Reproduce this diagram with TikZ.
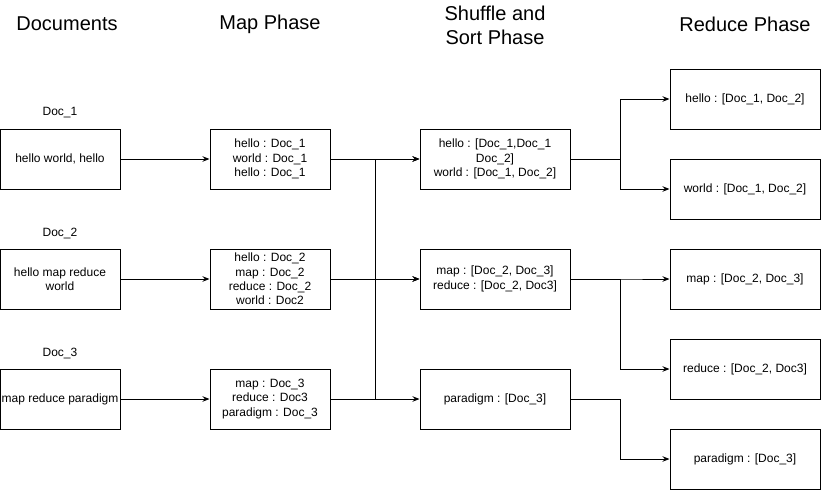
\documentclass[tikz,border=0pt]{standalone}
\usepackage{fontspec}
\setmainfont{Liberation Sans}
\usepackage{tikz}
\usetikzlibrary{arrows.meta}

\begin{document}
\begin{tikzpicture}[x=1pt,y=-1pt,line width=1pt,
    box/.style={draw, rectangle, minimum width=120pt, minimum height=60pt, inner sep=1pt, align=center, font=\fontsize{12}{14.4}\selectfont},
    widebox/.style={box, minimum width=150pt},
    title/.style={align=center, font=\fontsize{20}{24}\selectfont},
    doclabel/.style={font=\fontsize{12}{14.4}\selectfont},
    flow/.style={-{Stealth[length=7pt,width=5.5pt]}}]
    \useasboundingbox (0,0) rectangle (821,490);

    % Column titles
    \node[title] (tdocs) at (67,24) {Documents};
    \node[title] (tmap) at (270,24) {Map Phase};
    \node[title] (tshuffle) at (495,25) {Shuffle and\\Sort Phase};
    \node[title] (treduce) at (745,24) {Reduce Phase};

    % Input documents
    \node[doclabel] (l1) at (60,113) {Doc\_1};
    \node[doclabel] (l2) at (60,233) {Doc\_2};
    \node[doclabel] (l3) at (60,353) {Doc\_3};
    \node[box] (d1) at (60,159) {hello world, hello};
    \node[box] (d2) at (60,279) {hello map reduce\\world};
    \node[box] (d3) at (60,399) {map reduce paradigm};

    % Map phase
    \node[box] (m1) at (270,159) {hello : Doc\_1\\world : Doc\_1\\hello : Doc\_1};
    \node[box] (m2) at (270,279) {hello : Doc\_2\\map : Doc\_2\\reduce : Doc\_2\\world : Doc2};
    \node[box] (m3) at (270,399) {map : Doc\_3\\reduce : Doc3\\paradigm : Doc\_3};

    % Shuffle and sort phase
    \node[widebox] (s1) at (495,159) {hello : [Doc\_1,Doc\_1\\Doc\_2]\\world : [Doc\_1, Doc\_2]};
    \node[widebox] (s2) at (495,279) {map : [Doc\_2, Doc\_3]\\reduce : [Doc\_2, Doc3]};
    \node[widebox] (s3) at (495,399) {paradigm : [Doc\_3]};

    % Reduce phase
    \node[widebox] (r1) at (745,99) {hello : [Doc\_1, Doc\_2]};
    \node[widebox] (r2) at (745,189) {world : [Doc\_1, Doc\_2]};
    \node[widebox] (r3) at (745,279) {map : [Doc\_2, Doc\_3]};
    \node[widebox] (r4) at (745,369) {reduce : [Doc\_2, Doc3]};
    \node[widebox] (r5) at (745,459) {paradigm : [Doc\_3]};

    % Documents to map
    \draw[flow] (d1) -- (m1);
    \draw[flow] (d2) -- (m2);
    \draw[flow] (d3) -- (m3);

    % Map to shuffle
    \draw[flow] (m1) -- (s1);
    \draw[flow] (m2) -- (s2);
    \draw[flow] (m3) -- (s3);
    \draw[flow] (m2.east) -- ++(45,0) |- (s1.west);
    \draw[flow] (m3.east) -- ++(45,0) |- (s2.west);
    \draw (m1.east) -- ++(45,0) -- ++(0,240);

    % Shuffle to reduce
    \draw[flow] (s1.east) -- ++(50,0) |- (r1.west);
    \draw[flow] (s1.east) -- ++(50,0) |- (r2.west);
    \draw[flow] (s2.east) -- ++(50,0) |- (r3.west);
    \draw[flow] (s2.east) -- ++(50,0) |- (r4.west);
    \draw[flow] (s3.east) -- ++(50,0) |- (r5.west);
\end{tikzpicture}
\end{document}
